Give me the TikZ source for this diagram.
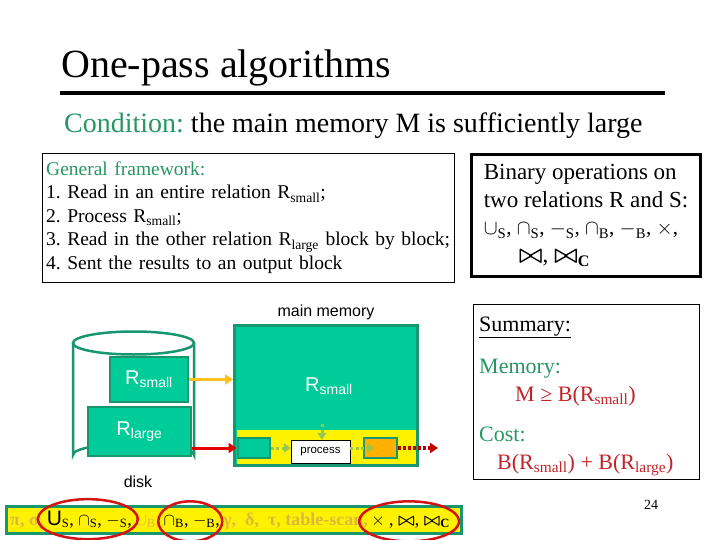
\documentclass[tikz,border=0pt]{standalone}
\usepackage{fontspec}
\setmainfont{Liberation Serif}
\setsansfont{Liberation Sans}
\usetikzlibrary{positioning,arrows.meta}
\frenchspacing

\definecolor{memfill}{RGB}{0,204,153}
\definecolor{memedge}{RGB}{24,150,112}
\definecolor{txtgreen}{RGB}{40,150,100}
\definecolor{txtred}{RGB}{192,36,40}
\definecolor{dotgreen}{RGB}{150,200,80}
\definecolor{outorange}{RGB}{255,176,0}
\definecolor{feedyellow}{RGB}{255,192,32}
\definecolor{fadetxt}{RGB}{222,184,60}
\definecolor{ringred}{RGB}{210,20,20}

\tikzset{
  block/.style={draw=memedge, line width=2.5pt, fill=memfill, inner sep=0pt},
  lbl/.style={font=\sffamily\fontsize{16}{16}\selectfont},
  rlbl/.style={text=white, font=\sffamily\fontsize{20}{20}\selectfont},
  dotarrow/.style={dotgreen, line width=3pt, dash pattern=on 3pt off 2.5pt, -{Triangle[length=7pt,width=9pt]}},
  feedarrow/.style={feedyellow, line width=3pt, -{Triangle[length=8pt,width=10pt]}},
  redarrow/.style={red!90!black, line width=3pt, -{Triangle[length=8pt,width=10pt]}},
  ring/.style={ringred, line width=2.5pt},
  optxt/.style={inner sep=0pt, font=\fontsize{18}{18}\selectfont},
  textbox/.style={draw, inner sep=0pt, anchor=north west}
}

\begin{document}
\begin{tikzpicture}[x=1pt,y=-1pt]
    \useasboundingbox (0,0) rectangle (720,540);
    \fill [white] (0,0) rectangle (720,540);

    % Title and condition
    \node [anchor=base west, inner sep=0pt, font=\fontsize{40}{40}\selectfont] (title) at (61,78) {One-pass algorithms};
    \draw [line width=4pt] (60,93) -- (665,93);
    \node [anchor=base west, inner sep=0pt, font=\fontsize{28}{28}\selectfont] (cond) at (64,133)
        {\textcolor{txtgreen}{Condition:} the main memory M is sufficiently large};

    % General framework
    \node [textbox, thin, minimum width=412pt, minimum height=129pt, align=left,
           font=\fontsize{19.5}{23.5}\selectfont, text width=404pt, inner xsep=4pt] (frame) at (42,153)
        {\textcolor{txtgreen}{General framework:}\\
         1. Read in an entire relation R\textsubscript{small};\\
         2. Process R\textsubscript{small};\\
         3. Read in the other relation R\textsubscript{large} block by block;\\
         4. Sent the results to an output block};

    % Binary operations
    \node [textbox, line width=3pt, minimum width=229pt, minimum height=122pt, align=left,
           font=\fontsize{23}{27.5}\selectfont, inner xsep=6pt] (binops) at (470,153)
        {Binary operations on\\
         two relations R and S:\\
         {\fontsize{21}{27.5}\selectfont$\cup_{\mathrm{S}}$, $\cap_{\mathrm{S}}$, $-_{\mathrm{S}}$, $\cap_{\mathrm{B}}$, $-_{\mathrm{B}}$, $\times$,}\\
         \hspace*{35pt}{\boldmath$\bowtie$}, {\boldmath$\bowtie_{\mathrm{C}}$}};

    % Summary
    \node [textbox, thin, minimum width=226pt, minimum height=175pt] (summary) at (473,304) {};
    \node [anchor=base west, inner sep=0pt, font=\fontsize{22}{22}\selectfont] (sumHead) at (479,331) {\underline{Summary:}};
    \node [anchor=base west, inner sep=0pt, text=txtgreen, font=\fontsize{22}{22}\selectfont] (memHead) at (479,373) {Memory:};
    \node [anchor=base west, inner sep=0pt, text=txtred, font=\fontsize{22}{22}\selectfont] (memCost) at (515,401) {M ≥ B(R\textsubscript{small})};
    \node [anchor=base west, inner sep=0pt, text=txtgreen, font=\fontsize{22}{22}\selectfont] (costHead) at (479,441) {Cost:};
    \node [anchor=base west, inner sep=0pt, text=txtred, font=\fontsize{22}{22}\selectfont] (ioCost) at (497,469) {B(R\textsubscript{small}) + B(R\textsubscript{large})};
    \node [anchor=base, inner sep=0pt, font=\fontsize{14}{14}\selectfont] (pageno) at (651,509) {24};

    % Disk
    \draw [memedge, line width=2.5pt, fill=white] (73,343) -- (73,455)
        arc [start angle=180, end angle=360, x radius=60.5, y radius=11.5] -- (194,343);
    \draw [memedge, line width=2.5pt, fill=white] (133.5,343) ellipse [x radius=60.5, y radius=11.5];
    \node [block, rlbl, minimum width=78pt, minimum height=45pt] (dSmall) at (149,379.5) {R\textsubscript{small}};
    \node [block, rlbl, minimum width=103pt, minimum height=49pt] (dLarge) at (139.5,431.5) {R\textsubscript{large}};
    \node [lbl] (diskLbl) at (138,482) {disk};

    % Main memory
    \node [block, line width=3pt, minimum width=183pt, minimum height=140pt] (mem) at (326,395.5) {};
    \node [lbl, above=1pt] (memLbl) at (mem.north) {main memory};
    \fill [yellow] (236.5,430) rectangle (415.5,464);
    \node [rlbl] (memR) at (329,386) {R\textsubscript{small}};
    \node [block, line width=2pt, minimum width=32pt, minimum height=20pt] (inBlk) at (253.5,448) {};
    \node [draw, thin, fill=white, minimum width=59pt, minimum height=23pt, inner sep=0pt,
           font=\sffamily\fontsize{11.5}{11.5}\selectfont] (process) at (320.5,451.5) {process};
    \node [block, line width=2pt, fill=outorange, minimum width=33pt, minimum height=20pt] (outBlk) at (380,448) {};
    \coordinate (feed) at (322,424);
    \coordinate (outEnd) at (438,448);

    \draw [feedarrow] (dSmall.east) -- (dSmall.east -| mem.west);
    \draw [redarrow] (inBlk.west -| dLarge.east) -- (inBlk.west);
    \draw [dotarrow] (feed) -- (feed |- process.north);
    \draw [dotarrow] (inBlk.east) -- (inBlk.east -| process.west);
    \draw [dotarrow, shorten >=6pt] (outBlk.center -| process.east) -- (outBlk.center);
    \draw [redarrow, line width=3.5pt, dash pattern=on 3pt off 2pt, red!75!black] (outBlk.east) -- (outEnd);

    % Operator bar
    \node [draw=memedge, line width=3pt, fill=yellow, minimum width=455pt, minimum height=27pt,
           anchor=north west, inner sep=0pt] (opsBar) at (5,505) {};
    \node [optxt, anchor=base west, text=fadetxt] (t1) at (10,525) {\bfseries π, σ,};
    \node [optxt, anchor=base west] (t2) at (t1.base east) {\,{\sffamily\fontsize{21}{21}\selectfont U}$_{\mathrm{S}}$, $\cap_{\mathrm{S}}$, $-_{\mathrm{S}}$,};
    \node [optxt, anchor=base west, text=fadetxt] (t3) at (t2.base east) {\,$\cup_{\mathrm{B}}$,};
    \node [optxt, anchor=base west] (t4) at (t3.base east) {\,$\cap_{\mathrm{B}}$, $-_{\mathrm{B}}$,};
    \node [optxt, anchor=base west, text=fadetxt] (t5) at (t4.base east) {\,\bfseries γ,\ \ δ,\ \ τ, table-scan,};
    \node [optxt, anchor=base west] (t6) at (t5.base east) {\,$\times$ , {\boldmath$\bowtie$}, {\boldmath$\bowtie_{\mathrm{C}}$}};
    \draw [ring] (t2.center) ellipse [x radius=50pt, y radius=20pt];
    \draw [ring] (t4.center) ellipse [x radius=32pt, y radius=20pt];
    \draw [ring] (t6.center) ellipse [x radius=50pt, y radius=20pt];
\end{tikzpicture}
\end{document}
